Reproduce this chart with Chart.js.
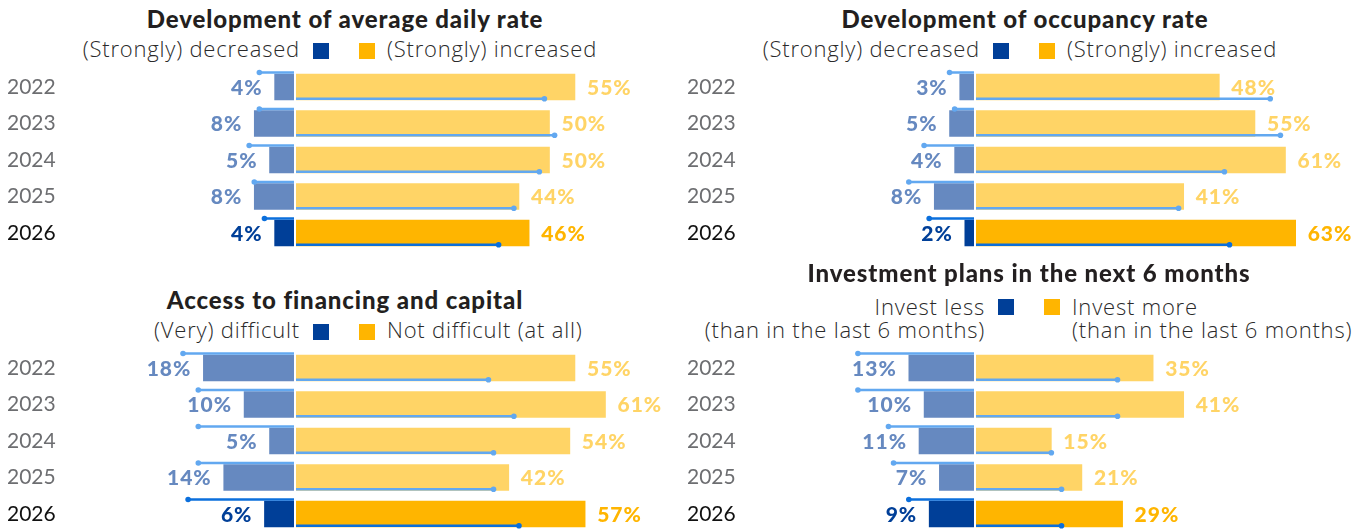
<!DOCTYPE html>
<html>
<head>
<meta charset="utf-8">
<script src="https://cdn.jsdelivr.net/npm/chart.js@4.4.1/dist/chart.umd.min.js"></script>
<style>
html, body { margin: 0; padding: 0; background: #fff; }
body { width: 1370px; height: 529px; overflow: hidden; position: relative; font-family: Lato, sans-serif; }
.panel { position: absolute; width: 690px; height: 270px; }
.title { position: absolute; left: 0; width: 690px; text-align: center; font-weight: 900; font-size: 24px; letter-spacing: 0.9px; line-height: 28.8px; color: #231f20; white-space: nowrap; }
.lg { position: absolute; font-family: 'Open Sans', sans-serif; font-weight: 300; font-size: 22px; letter-spacing: 0.8px; line-height: 25px; color: #2a2a2a; display: flex; align-items: flex-start; white-space: nowrap; }
.lg.l { right: 361px; text-align: right; }
.lg.r { left: 359px; }
.box { width: 16px; height: 16px; margin-top: 7px; flex: none; }
.lg.l .box { margin-left: 13px; background: #003f98; }
.lg.r .box { margin-right: 12px; background: #ffb500; }
.two { line-height: 22.5px; }
.two .box { margin-top: 3.75px; }
.two.l { right: 356px; }
.two.r { left: 364px; }
canvas { position: absolute; left: 0; top: 56px; }
</style>
</head>
<body>

<div class="panel" style="left:0;top:0">
  <div class="title" style="top:4.6px">Development of average daily rate</div>
  <div class="lg l" style="top:36px"><span>(Strongly) decreased</span><div class="box"></div></div>
  <div class="lg r" style="top:36px"><div class="box"></div><span>(Strongly) increased</span></div>
  <canvas id="c1" width="680" height="208"></canvas>
</div>

<div class="panel" style="left:680px;top:0">
  <div class="title" style="top:4.6px">Development of occupancy rate</div>
  <div class="lg l" style="top:36px"><span>(Strongly) decreased</span><div class="box"></div></div>
  <div class="lg r" style="top:36px"><div class="box"></div><span>(Strongly) increased</span></div>
  <canvas id="c2" width="680" height="208"></canvas>
</div>

<div class="panel" style="left:0;top:281px">
  <div class="title" style="top:4.6px">Access to financing and capital</div>
  <div class="lg l" style="top:36px"><span>(Very) difficult</span><div class="box"></div></div>
  <div class="lg r" style="top:36px"><div class="box"></div><span>Not difficult (at all)</span></div>
  <canvas id="c3" width="680" height="208"></canvas>
</div>

<div class="panel" style="left:680px;top:281px">
  <div class="title" style="top:-21.7px;left:4px">Investment plans in the next 6 months</div>
  <div class="lg l two" style="top:14.25px"><span>Invest less<br>(than in the last 6 months)</span><div class="box"></div></div>
  <div class="lg r two" style="top:14.25px"><div class="box"></div><span>Invest more<br>(than in the last 6 months)</span></div>
  <canvas id="c4" width="680" height="208"></canvas>
</div>

<script>
var years = ['2022', '2023', '2024', '2025', '2026'];

// average daily rate
var adrDec = [4, 8, 5, 8, 4];
var adrInc = [55, 50, 50, 44, 46];
var adrRefDec = [7, 7, 9, 8, 6];
var adrRefInc = [49, 51, 48, 43, 40];

// occupancy rate
var occDec = [3, 5, 4, 8, 2];
var occInc = [48, 55, 61, 41, 63];
var occRefDec = [5, 4, 10, 13, 9];
var occRefInc = [58, 60, 49, 40, 50];

// access to financing
var finDec = [18, 10, 5, 14, 6];
var finInc = [55, 61, 54, 42, 57];
var finRefDec = [22, 19, 19, 19, 21];
var finRefInc = [38, 43, 39, 39, 44];

// investment plans
var invDec = [13, 10, 11, 7, 9];
var invInc = [35, 41, 15, 21, 29];
var invRefDec = [23, 23, 17, 16, 13];
var invRefInc = [28, 28, 15, 17, 17];

var ZERO = 295, PX = 5.09, BAR = 26;
var last = years.length - 1;

var overlay = {
    id: 'overlay',
    afterDatasetsDraw: function (chart, args, opts) {
        var ctx = chart.ctx;
        var xs = chart.scales.x, ys = chart.scales.y;
        var zero = xs.getPixelForValue(0);
        var area = chart.chartArea;
        ctx.save();
        // white gap in the middle
        ctx.fillStyle = '#fff';
        ctx.fillRect(zero - 1, area.top, 2, area.bottom - area.top);

        // value labels
        ctx.font = '900 21px Lato';
        ctx.letterSpacing = '1px';
        ctx.textBaseline = 'middle';
        chart.getDatasetMeta(0).data.forEach(function (el, i) {
            ctx.fillStyle = i === last ? '#003f98' : '#6689c0';
            ctx.textAlign = 'right';
            ctx.fillText(-chart.data.datasets[0].data[i] + '%', el.x - 12, el.y + 1);
        });
        chart.getDatasetMeta(1).data.forEach(function (el, i) {
            ctx.fillStyle = i === last ? '#ffb500' : '#ffd466';
            ctx.textAlign = 'left';
            ctx.fillText(chart.data.datasets[1].data[i] + '%', el.x + 12, el.y + 1);
        });

        // reference lines with dots
        ctx.lineWidth = 2.5;
        opts.dec.forEach(function (v, i) {
            var y = ys.getPixelForValue(i) - BAR / 2 - 1.5;
            var x = xs.getPixelForValue(-v);
            var c = i === last ? '#0b6fdc' : '#62a8f0';
            ctx.strokeStyle = c; ctx.fillStyle = c;
            ctx.beginPath(); ctx.moveTo(zero - 1, y); ctx.lineTo(x, y); ctx.stroke();
            ctx.beginPath(); ctx.arc(x, y, 2.8, 0, Math.PI * 2); ctx.fill();
        });
        opts.inc.forEach(function (v, i) {
            var y = ys.getPixelForValue(i) + BAR / 2 - 1.2;
            var x = xs.getPixelForValue(v);
            var c = i === last ? '#0b6fdc' : '#62a8f0';
            ctx.strokeStyle = c; ctx.fillStyle = c;
            ctx.beginPath(); ctx.moveTo(zero + 1, y); ctx.lineTo(x, y); ctx.stroke();
            ctx.beginPath(); ctx.arc(x, y, 2.8, 0, Math.PI * 2); ctx.fill();
        });
        ctx.restore();
    }
};

function makeChart(id, dec, inc, refDec, refInc) {
    return new Chart(document.getElementById(id), {
        type: 'bar',
        data: {
            labels: years,
            datasets: [{
                data: dec.map(function (v) { return -v; }),
                backgroundColor: dec.map(function (v, i) { return i === last ? '#003f98' : '#6689c0'; }),
                barThickness: BAR
            }, {
                data: inc,
                backgroundColor: inc.map(function (v, i) { return i === last ? '#ffb500' : '#ffd466'; }),
                barThickness: BAR
            }]
        },
        options: {
            indexAxis: 'y',
            responsive: false,
            animation: false,
            // 12.75 top/bottom leaves room for the year labels, rows are 36.5px apart
            layout: { padding: { left: 7, right: 5, top: 12.75, bottom: 12.75 } },
            scales: {
                x: { stacked: true, display: false, min: -(ZERO - 70) / PX, max: (675 - ZERO) / PX },
                y: {
                    stacked: true,
                    grid: { display: false },
                    border: { display: false },
                    ticks: {
                        crossAlign: 'far',
                        padding: 0,
                        font: { family: 'Lato', size: 21 },
                        color: function (c) { return c.index === last ? '#111' : '#6d6e71'; }
                    },
                    afterFit: function (s) { s.width = 63; }
                }
            },
            plugins: {
                legend: { display: false },
                tooltip: { enabled: false },
                overlay: { dec: refDec, inc: refInc }
            }
        },
        plugins: [overlay]
    });
}

makeChart('c1', adrDec, adrInc, adrRefDec, adrRefInc);
makeChart('c2', occDec, occInc, occRefDec, occRefInc);
makeChart('c3', finDec, finInc, finRefDec, finRefInc);
makeChart('c4', invDec, invInc, invRefDec, invRefInc);
</script>
</body>
</html>
